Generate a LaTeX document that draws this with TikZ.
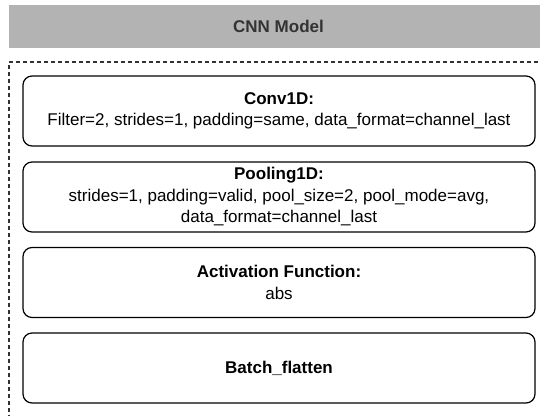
\documentclass[tikz,border=0pt]{standalone}
\usepackage{fontspec}
\setmainfont{Liberation Sans}
\definecolor{hdrgray}{HTML}{B3B3B3}
\definecolor{hdrtext}{HTML}{333333}
\definecolor{dashcol}{HTML}{333333}
\begin{document}
\begin{tikzpicture}[x=1pt,y=-1pt,
  header/.style={fill=hdrgray,draw=none,minimum width=539pt,minimum height=43pt,
    inner sep=0pt,text=hdrtext,font=\fontsize{17}{20.5}\selectfont\bfseries},
  layerbox/.style={draw=black,line width=1.2pt,rounded corners=9pt,
    minimum width=512pt,minimum height=70pt,inner sep=0pt,align=center,
    font=\fontsize{17}{21.5}\selectfont},
  frame/.style={draw=dashcol,line width=1.3pt,dash pattern=on 4pt off 3pt}]
\useasboundingbox (0,0) rectangle (540,415);
\clip (0,0) rectangle (540,415);
\fill[white] (0,0) rectangle (540,415);
\node[header] (hdr) at (278.5,26.5) {CNN Model};
\draw[frame] (545,62) -| (9,420);
\node[layerbox] (conv) at (279,111) {\textbf{Conv1D:}\\Filter=2, strides=1, padding=same, data\_format=channel\_last};
\node[layerbox] (pool) at (279,197) {\textbf{Pooling1D:}\\strides=1, padding=valid, pool\_size=2, pool\_mode=avg,\\data\_format=channel\_last};
\node[layerbox] (act) at (279,282.5) {\textbf{Activation Function:}\\abs};
\node[layerbox] (flat) at (279,368) {\textbf{Batch\_flatten}};
\end{tikzpicture}
\end{document}
